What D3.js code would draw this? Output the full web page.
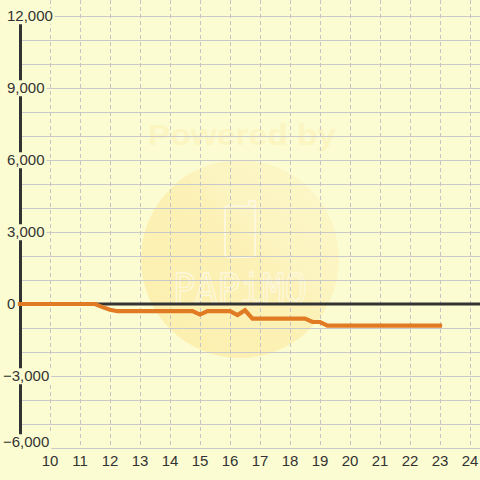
<!DOCTYPE html>
<html><head><meta charset="utf-8">
<script src="https://cdn.jsdelivr.net/npm/d3@7"></script>
<style>html,body{margin:0;padding:0;background:#fcfcd2;}svg{display:block;}</style>
</head><body>
<svg id="c" width="480" height="480"></svg>
<script>
// Data
const xValues = [9, 11.5, 11.75, 12, 12.25, 14.75, 15, 15.25, 16, 16.25, 16.5, 16.75, 18.5, 18.75, 19, 19.25, 23];
const yValues = [0, 0, -130, -240, -300, -300, -440, -300, -300, -460, -260, -610, -610, -750, -750, -900, -900];
const xTicks = [10,11,12,13,14,15,16,17,18,19,20,21,22,23,24];
const yTicks = [12000, 9000, 6000, 3000, 0, -3000, -6000];
const yGrid = d3.range(-6000, 12001, 1000);

const W = 480, H = 480;
const svg = d3.select("#c");
const bg = "#fcfcd2";
svg.append("rect").attr("width", W).attr("height", H).attr("fill", bg);

const x = d3.scaleLinear().domain([9, 24]).range([20, 470]);
const y = d3.scaleLinear().domain([12000, -6000]).range([16, 448]);

// watermark
const defs = svg.append("defs");
const g = defs.append("linearGradient").attr("id","wm").attr("x1","0").attr("y1","1").attr("x2","1").attr("y2","0");
g.append("stop").attr("offset","0").attr("stop-color","#fcefae");
g.append("stop").attr("offset","0.55").attr("stop-color","#fcf1b6");
g.append("stop").attr("offset","0.62").attr("stop-color","#fcf4c0");
g.append("stop").attr("offset","1").attr("stop-color","#fcf8ca");
const wm = svg.append("g");
wm.append("circle").attr("cx",240).attr("cy",259).attr("r",99).attr("fill","url(#wm)");
wm.append("text").attr("x",148).attr("y",145).attr("font-family","Liberation Sans, Arial, sans-serif")
  .attr("font-weight","bold").attr("font-size",30).attr("fill","#fbf5c2")
  .attr("textLength",188).attr("lengthAdjust","spacingAndGlyphs").text("Powered by");
wm.append("rect").attr("x",225).attr("y",206).attr("width",30).attr("height",51).attr("rx",3)
  .attr("fill","none").attr("stroke","#fdf8dc").attr("stroke-width",2);
wm.append("path").attr("d","M249,206 L249,201 L255,201 L255,210").attr("fill","none").attr("stroke","#fdf8dc").attr("stroke-width",2);
wm.append("text").attr("x",173).attr("y",303).attr("font-family","DejaVu Sans Mono, monospace")
  .attr("font-size",40).attr("fill","none").attr("stroke","#fdf8dc").attr("stroke-width",1.4)
  .attr("textLength",134).attr("lengthAdjust","spacingAndGlyphs").text("PAPiMO");

// horizontal gridlines
svg.append("g").selectAll("line").data(yGrid).join("line")
  .attr("x1", 20).attr("x2", W)
  .attr("y1", d => Math.round(y(d)) + 0.5).attr("y2", d => Math.round(y(d)) + 0.5)
  .attr("stroke", "#c9c9c9").attr("stroke-width", 1.2);

// vertical dashed gridlines
svg.append("g").selectAll("line").data(xTicks).join("line")
  .attr("x1", d => Math.round(x(d)) + 0.5).attr("x2", d => Math.round(x(d)) + 0.5)
  .attr("y1", 0).attr("y2", y(-6000))
  .attr("stroke", "#c4c4c4").attr("stroke-width", 1).attr("stroke-dasharray", "4,3");

// zero line
svg.append("line").attr("x1", 20).attr("x2", W).attr("y1", y(0)).attr("y2", y(0))
  .attr("stroke", "#333").attr("stroke-width", 3);

// y axis line
svg.append("line").attr("x1", 20.5).attr("x2", 20.5).attr("y1", 16).attr("y2", 440)
  .attr("stroke", "#333").attr("stroke-width", 3);

// y labels with backgrounds
const fmt = d3.format(",");
const ylab = svg.append("g").selectAll("g").data(yTicks).join("g")
  .attr("transform", d => `translate(${d < 0 ? 3 : 7},${y(d) - (d === -6000 ? 6 : 0)})`);
ylab.append("text").attr("font-family", "Liberation Sans, Arial, sans-serif").attr("font-size", 15)
  .attr("fill", "#333").attr("dy", "0.35em").text(d => fmt(d));
ylab.each(function() {
  const t = d3.select(this).select("text");
  const b = t.node().getBBox();
  d3.select(this).insert("rect", "text").attr("x", b.x - 1).attr("y", b.y + 1).attr("width", b.width + 3).attr("height", b.height - 1).attr("fill", bg);
});

// x labels
svg.append("g").selectAll("text").data(xTicks).join("text")
  .attr("x", d => x(d)).attr("y", 461).attr("dy", "0.35em").attr("text-anchor", "middle")
  .attr("font-family", "Liberation Sans, Arial, sans-serif").attr("font-size", 15).attr("fill", "#333")
  .text(d => d);

// orange line
const pts = xValues.map((v, i) => [v, yValues[i]]);
svg.append("path").datum(pts)
  .attr("d", d3.line().x(d => x(d[0])).y(d => y(d[1])))
  .attr("fill", "none").attr("stroke", "#e07b24").attr("stroke-width", 4.2)
  .attr("stroke-linejoin", "miter").attr("stroke-linecap", "square");
</script>
</body></html>
